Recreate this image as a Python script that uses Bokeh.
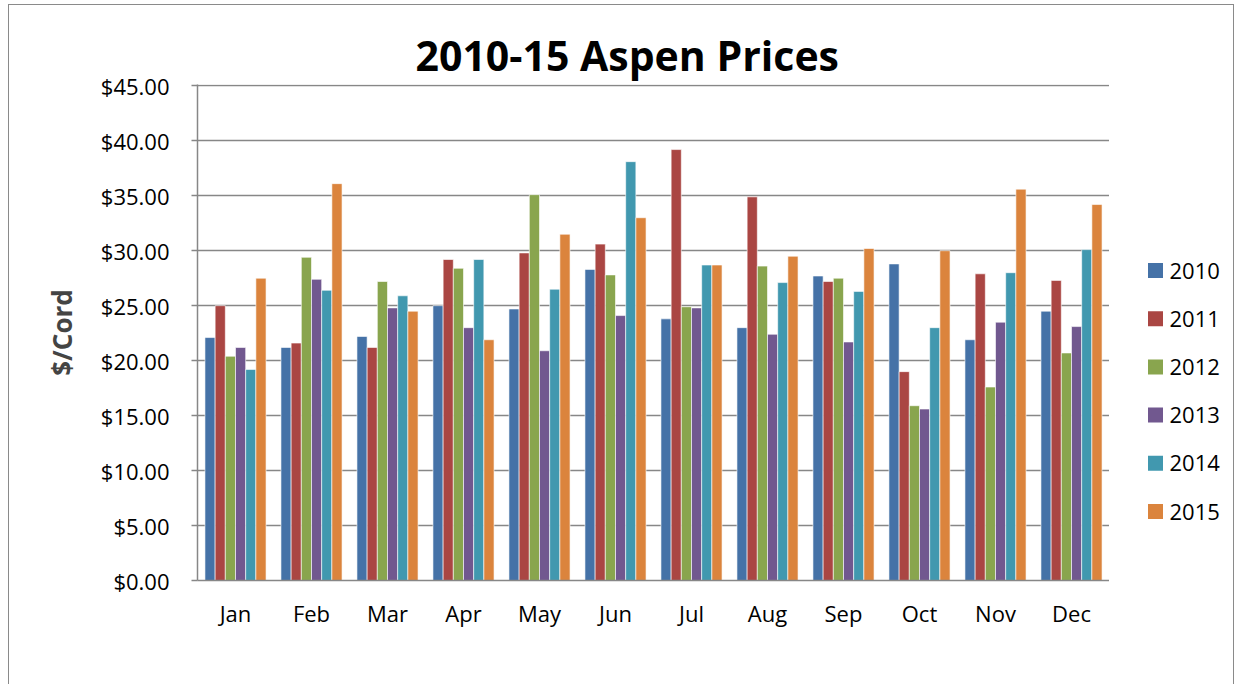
from bokeh.plotting import figure
from bokeh.layouts import row
from bokeh.models import ColumnDataSource, FactorRange, Range1d, NumeralTickFormatter, FixedTicker
from bokeh.core.properties import value
from bokeh.transform import dodge
from bokeh.embed import file_html
from bokeh.resources import INLINE

months = ["Jan", "Feb", "Mar", "Apr", "May", "Jun", "Jul", "Aug", "Sep", "Oct", "Nov", "Dec"]
years = ["2010", "2011", "2012", "2013", "2014", "2015"]

y2010 = [22.1, 21.2, 22.2, 25.0, 24.7, 28.3, 23.8, 23.0, 27.7, 28.8, 21.9, 24.5]
y2011 = [25.0, 21.6, 21.2, 29.2, 29.8, 30.6, 39.2, 34.9, 27.2, 19.0, 27.9, 27.3]
y2012 = [20.4, 29.4, 27.2, 28.4, 35.1, 27.8, 24.9, 28.6, 27.5, 15.9, 17.6, 20.7]
y2013 = [21.2, 27.4, 24.8, 23.0, 20.9, 24.1, 24.8, 22.4, 21.7, 15.6, 23.5, 23.1]
y2014 = [19.2, 26.4, 25.9, 29.2, 26.5, 38.1, 28.7, 27.1, 26.3, 23.0, 28.0, 30.1]
y2015 = [27.5, 36.1, 24.5, 21.9, 31.5, 33.0, 28.7, 29.5, 30.2, 30.0, 35.6, 34.2]
series = [y2010, y2011, y2012, y2013, y2014, y2015]
colors = ["#4572A7", "#AA4643", "#89A54E", "#71588F", "#4198AF", "#DB843D"]

data = {"month": months}
for yr, vals in zip(years, series):
    data["y" + yr] = vals
src = ColumnDataSource(data)

FONT = "Open Sans"
H = 680

p = figure(width=1100, height=H, x_range=FactorRange(*months), y_range=Range1d(0, 45.12),
           output_backend="svg", toolbar_location=None,
           min_border_left=188, min_border_right=0, min_border_top=79, min_border_bottom=105)
p.outline_line_color = None
p.background_fill_color = "white"
p.border_fill_color = "white"

p.title.text = "2010-15 Aspen Prices"
p.title.text_font = FONT
p.title.text_font_size = "41px"
p.title.text_font_style = "bold"
p.title.align = "left"
p.title.text_color = "black"
p.title.offset = 218
p.title.standoff = 4

w = 0.134
for i, (yr, col) in enumerate(zip(years, colors)):
    off = (i - 2.5) * w
    p.vbar(x=dodge("month", off, range=p.x_range), top="y" + yr, width=w, source=src,
           fill_color=col, line_color="white", line_alpha=0.6, line_width=1)

p.xgrid.grid_line_color = None
p.ygrid.grid_line_color = "#878787"
p.ygrid.grid_line_width = 1.5
p.yaxis.ticker = FixedTicker(ticks=[0, 5, 10, 15, 20, 25, 30, 35, 40, 45])
p.yaxis.formatter = NumeralTickFormatter(format="$0.00")
p.yaxis.axis_label = "$/Cord"
p.yaxis.axis_label_text_font = FONT
p.yaxis.axis_label_text_font_style = "bold"
p.yaxis.axis_label_text_font_size = "26px"
p.yaxis.axis_label_standoff = 18
p.yaxis.minor_tick_line_color = None
p.yaxis.major_tick_out = 6
p.yaxis.major_tick_in = 0
p.yaxis.major_label_standoff = 22

for ax in [p.xaxis, p.yaxis]:
    ax.axis_line_color = "#878787"
    ax.axis_line_width = 1.5
    ax.major_tick_line_color = "#878787"
    ax.major_tick_line_width = 1.5
    ax.major_label_text_font = FONT
    ax.major_label_text_font_size = "22px"
    ax.major_label_text_color = "black"

p.xaxis.major_tick_line_color = None
p.xaxis.major_tick_out = 0
p.xaxis.major_label_standoff = 17

# legend panel (right side); its frame is aligned with the main frame (page y 83..579)
LW = 124
leg = figure(width=LW, height=H, x_range=Range1d(0, LW), y_range=Range1d(579, 83),
             output_backend="svg", toolbar_location=None,
             x_axis_location=None, y_axis_location=None, min_border=0)
leg.grid.visible = False
leg.outline_line_color = None
leg.background_fill_color = "white"
leg.border_fill_color = "white"
leg_y = [269 + 48.2 * i for i in range(len(years))]
lsrc = ColumnDataSource(dict(y=leg_y, label=years, color=colors))
leg.rect(x=46, y="y", width=15, height=15, fill_color="color", line_color=None, source=lsrc)
leg.text(x=60, y="y", text="label", source=lsrc, text_baseline="middle", text_align="left",
         text_font=value(FONT), text_font_size="22px", text_color="black")

layout = row(p, leg, spacing=0)
layout.margin = (4, 0, 0, 8)
layout.styles = {"border": "1px solid #8a8a8a"}

open("out.html", "w").write(file_html(layout, INLINE))
